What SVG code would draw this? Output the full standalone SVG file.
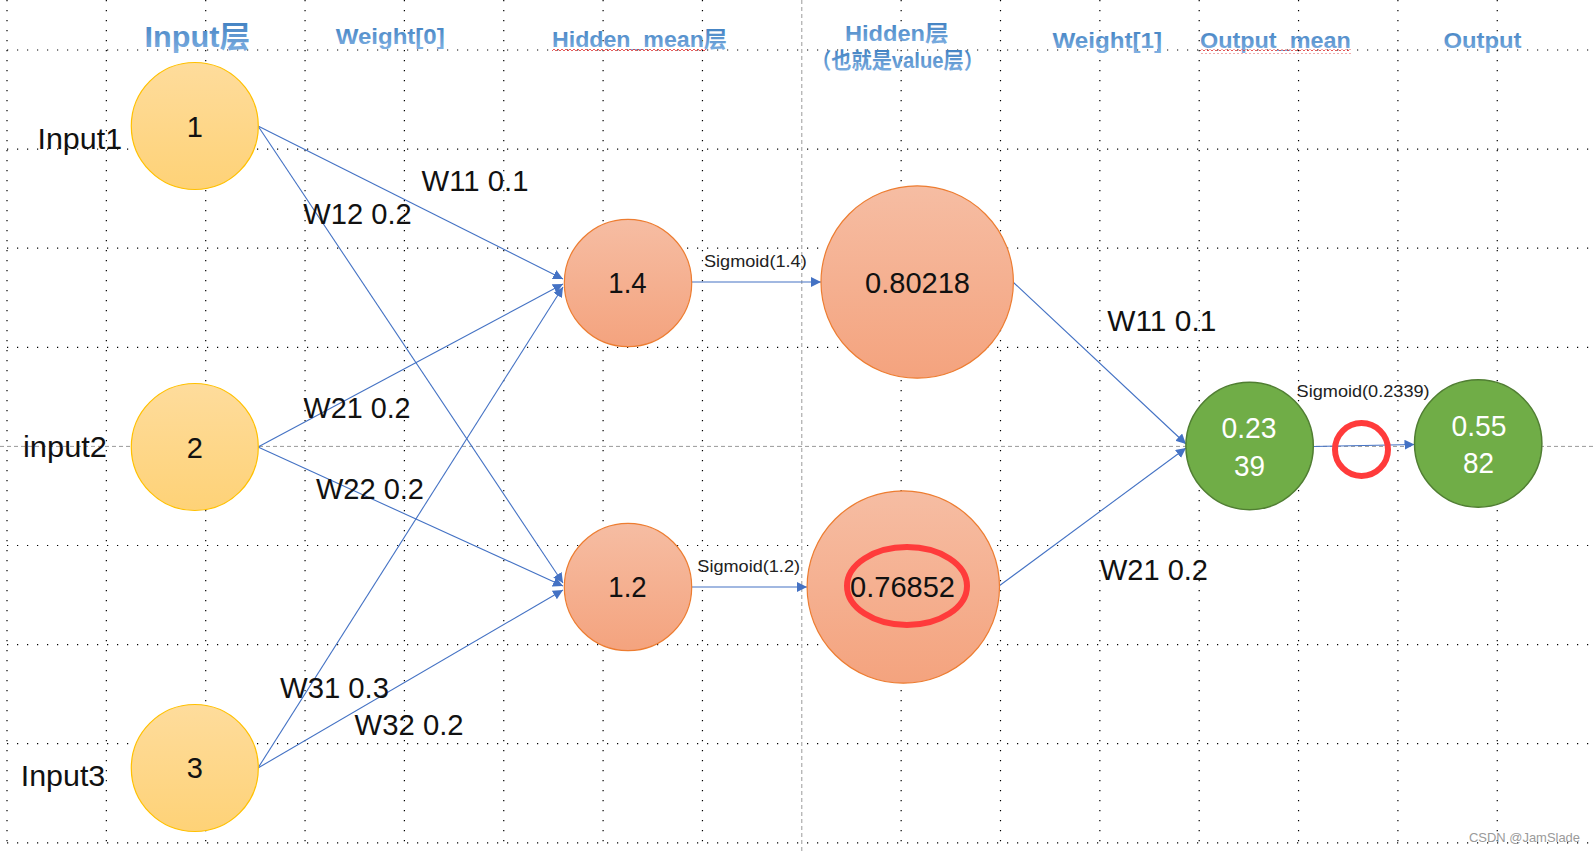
<svg xmlns="http://www.w3.org/2000/svg" width="1595" height="852" viewBox="0 0 1595 852">
<style>
.dot{stroke:#000;stroke-width:1.2;stroke-dasharray:1.2 8.8;fill:none}
.dash{stroke:#9a9a9a;stroke-width:1;stroke-dasharray:4 3;fill:none}
.title{font-family:"Liberation Sans","Noto Sans CJK SC",sans-serif;font-weight:bold;fill:url(#tg)}
.lbl{font-family:"Liberation Sans","Noto Sans CJK SC",sans-serif;font-size:29px;fill:#111}
.sig{font-family:"Liberation Sans",sans-serif;font-size:17px;fill:#222}
.num{font-family:"Liberation Sans",sans-serif;font-size:29px;fill:#111;text-anchor:middle}
.wnum{font-family:"Liberation Sans",sans-serif;font-size:29px;fill:#fff;text-anchor:middle}
.in{fill:url(#gIn);stroke:#FFC000;stroke-width:1.2}
.hid{fill:url(#gHid);stroke:#ED7D31;stroke-width:1.2}
.out{fill:#70AD47;stroke:#507E32;stroke-width:1.5}
.edge{stroke:#4472C4;stroke-width:1.1;fill:none;marker-end:url(#arr)}
.red{fill:none;stroke:#FF3B3B;stroke-width:6}
</style>
<defs>
<linearGradient id="gIn" x1="0" y1="0" x2="0" y2="1"><stop offset="0" stop-color="#FEDC9C"/><stop offset="1" stop-color="#FED277"/></linearGradient>
<linearGradient id="gHid" x1="0" y1="0" x2="0" y2="1"><stop offset="0" stop-color="#F6BDA3"/><stop offset="1" stop-color="#F4A37E"/></linearGradient>
<linearGradient id="tg" x1="0" y1="0" x2="0" y2="1"><stop offset="0" stop-color="#3F7FC0"/><stop offset="1" stop-color="#7FB0E2"/></linearGradient>
<marker id="arr" markerUnits="userSpaceOnUse" markerWidth="11" markerHeight="11" refX="10" refY="5" orient="auto"><path d="M0,0 L10,5 L0,10 z" fill="#4472C4"/></marker>
<pattern id="squig" width="4" height="4" patternUnits="userSpaceOnUse"><path d="M0,3 L2,1 L4,3" stroke="#E03030" stroke-width="0.8" fill="none"/></pattern>
</defs>
<rect width="1595" height="852" fill="#fff"/>
<g id="grid">
<path class="dot" d="M7,0V843 M106.35,0V843 M205.7,0V843 M305.05,0V843 M404.4,0V843 M503.75,0V843 M603.1,0V843 M702.45,0V843 M901.15,0V843 M1000.5,0V843 M1099.85,0V843 M1199.2,0V843 M1298.55,0V843 M1397.9,0V843 M1497.25,0V843"/>
<path class="dot" d="M7,50H1595 M7,149.1H1595 M7,248.2H1595 M7,347.3H1595 M7,545.5H1595 M7,644.6H1595 M7,743.7H1595 M7,842.8H1595"/>
<path class="dash" d="M801.8,0V852 M0,446.4H1595"/>
</g>
<g id="titles">
<text class="title" x="144.6" y="46.7" font-size="30" textLength="105.4" lengthAdjust="spacingAndGlyphs">Input层</text>
<text class="title" x="335.7" y="44" font-size="22" textLength="109" lengthAdjust="spacingAndGlyphs">Weight[0]</text>
<text class="title" x="552" y="46.5" font-size="22" textLength="175" lengthAdjust="spacingAndGlyphs">Hidden_mean层</text>
<rect x="552" y="47.5" width="154" height="4" fill="url(#squig)"/>
<text class="title" x="845" y="40.5" font-size="22" textLength="103.6" lengthAdjust="spacingAndGlyphs">Hidden层</text>
<text class="title" x="811" y="68" font-size="22" textLength="173" lengthAdjust="spacingAndGlyphs">（也就是value层）</text>
<text class="title" x="1052.4" y="48" font-size="22" textLength="109.6" lengthAdjust="spacingAndGlyphs">Weight[1]</text>
<text class="title" x="1200" y="48" font-size="22" textLength="150.8" lengthAdjust="spacingAndGlyphs">Output_mean</text>
<rect x="1200" y="49.5" width="151" height="4" fill="url(#squig)"/>
<text class="title" x="1443.5" y="48" font-size="22" textLength="78" lengthAdjust="spacingAndGlyphs">Output</text>
</g>
<g id="connectors">
<path class="edge" d="M258,126 L563,279"/>
<path class="edge" d="M258,126 L563,583"/>
<path class="edge" d="M258,447 L563,284"/>
<path class="edge" d="M258,447 L563,586"/>
<path class="edge" d="M258,768 L563,287"/>
<path class="edge" d="M258,768 L563,590"/>
<path class="edge" d="M692,282 L821,282"/>
<path class="edge" d="M692,587 L807,587"/>
<path class="edge" d="M1013,282 L1186,444"/>
<path class="edge" d="M999,586 L1186,448"/>
<path class="edge" d="M1313,446.5 L1414.5,444.5"/>
</g>
<g id="edge-labels">
<text class="lbl" x="421.5" y="190.5" textLength="107" lengthAdjust="spacingAndGlyphs">W11 0.1</text>
<text class="lbl" x="303.3" y="224.3" textLength="108.4" lengthAdjust="spacingAndGlyphs">W12 0.2</text>
<text class="lbl" x="303.6" y="418" textLength="107" lengthAdjust="spacingAndGlyphs">W21 0.2</text>
<text class="lbl" x="316" y="499" textLength="108" lengthAdjust="spacingAndGlyphs">W22 0.2</text>
<text class="lbl" x="280" y="698" textLength="109" lengthAdjust="spacingAndGlyphs">W31 0.3</text>
<text class="lbl" x="354.6" y="735" textLength="109" lengthAdjust="spacingAndGlyphs">W32 0.2</text>
<text class="lbl" x="1107.3" y="330.7" textLength="109" lengthAdjust="spacingAndGlyphs">W11 0.1</text>
<text class="lbl" x="1100" y="580" textLength="108" lengthAdjust="spacingAndGlyphs">W21 0.2</text>
<text class="sig" x="704" y="266.7" textLength="102.7" lengthAdjust="spacingAndGlyphs">Sigmoid(1.4)</text>
<text class="sig" x="697.3" y="571.7" textLength="102.7" lengthAdjust="spacingAndGlyphs">Sigmoid(1.2)</text>
<text class="sig" x="1296.6" y="397" textLength="133" lengthAdjust="spacingAndGlyphs">Sigmoid(0.2339)</text>
</g>
<g id="side-labels">
<text class="lbl" x="37.5" y="149" textLength="84.6" lengthAdjust="spacingAndGlyphs">Input1</text>
<text class="lbl" x="23" y="456.7" textLength="84" lengthAdjust="spacingAndGlyphs">input2</text>
<text class="lbl" x="20.7" y="785.7" textLength="84.6" lengthAdjust="spacingAndGlyphs">Input3</text>
</g>
<g id="node-in1"><circle class="in" cx="194.8" cy="126" r="63.5"/><text class="num" x="194.8" y="136.7">1</text></g>
<g id="node-in2"><circle class="in" cx="194.8" cy="447" r="63.5"/><text class="num" x="194.8" y="458">2</text></g>
<g id="node-in3"><circle class="in" cx="194.8" cy="768" r="63.5"/><text class="num" x="194.8" y="778">3</text></g>
<g id="node-hm1"><circle class="hid" cx="628" cy="283" r="63.7"/><text class="num" x="627.5" y="293.3" textLength="38.3" lengthAdjust="spacingAndGlyphs">1.4</text></g>
<g id="node-hm2"><circle class="hid" cx="628" cy="587" r="63.7"/><text class="num" x="627.5" y="597.3" textLength="38.3" lengthAdjust="spacingAndGlyphs">1.2</text></g>
<g id="node-h1"><circle class="hid" cx="917.2" cy="282" r="96.2"/><text class="num" x="917.5" y="293.3" textLength="105" lengthAdjust="spacingAndGlyphs">0.80218</text></g>
<g id="node-h2"><circle class="hid" cx="903.3" cy="587" r="96.2"/><text class="num" x="902.5" y="597.3" textLength="105" lengthAdjust="spacingAndGlyphs">0.76852</text><ellipse class="red" cx="907" cy="586" rx="60" ry="39"/></g>
<g id="node-om"><circle class="out" cx="1249.6" cy="446" r="63.7"/><text class="wnum" x="1249" y="438.3" textLength="55" lengthAdjust="spacingAndGlyphs">0.23</text><text class="wnum" x="1249.6" y="476" textLength="31" lengthAdjust="spacingAndGlyphs">39</text></g>
<g id="node-out"><circle class="out" cx="1478.2" cy="443.5" r="63.7"/><text class="wnum" x="1479" y="436" textLength="55" lengthAdjust="spacingAndGlyphs">0.55</text><text class="wnum" x="1478.6" y="473.3" textLength="31" lengthAdjust="spacingAndGlyphs">82</text></g>
<g id="highlight"><circle class="red" cx="1361.5" cy="449.5" r="26.5"/></g>
<text x="1469" y="841.7" font-family="Liberation Sans, sans-serif" font-size="13" fill="#9a9a9a" textLength="111" lengthAdjust="spacingAndGlyphs">CSDN @JamSlade</text>
</svg>
